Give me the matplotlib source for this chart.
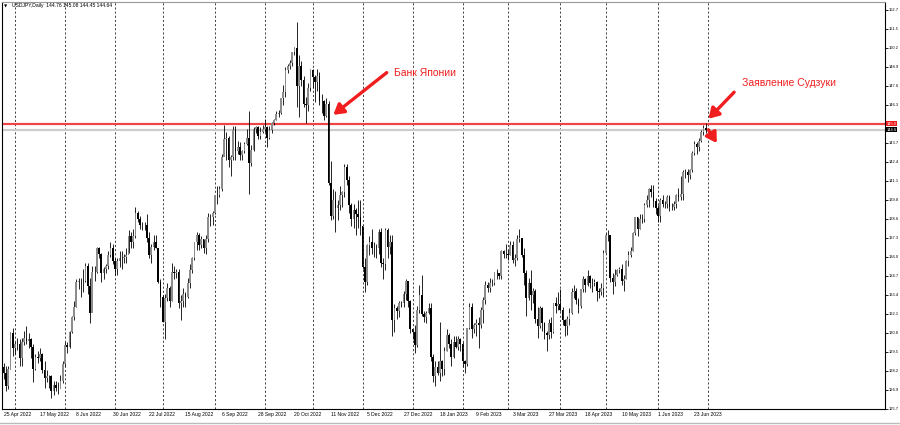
import numpy as np
import pandas as pd
import matplotlib
matplotlib.use('Agg')
import matplotlib.pyplot as plt

plt.rcParams['font.family'] = ['Liberation Sans', 'DejaVu Sans']

# USDJPY daily bars, 25 Apr 2022 .. 30 Jun 2023 (one value per trading day)
first_open = 128.5
closes = [
    # Apr 2022
    128.1, 127.2, 128.4, 130.8, 129.8,
    # May 2022
    130.1, 130.1, 129.1, 130.2, 130.5, 130.3, 130.4, 129.9, 128.4, 129.2, 129.1,
    129.4, 128.3, 127.8, 127.9, 127.9, 126.9, 127.3, 127.1, 127.1, 127.6, 128.7,
    # Jun 2022
    130.0, 129.9, 130.9, 131.9, 132.6, 134.3, 134.4, 134.4, 134.4, 135.4, 134.0,
    132.2, 135.0, 135.0, 136.6, 136.2, 134.9, 135.2, 135.4, 136.1, 136.6, 135.7,
    # Jul 2022
    135.2, 135.7, 135.9, 135.9, 136.0, 136.1, 137.4, 137.0, 137.4, 139.0, 138.6,
    138.2, 138.2, 138.2, 137.3, 136.1, 136.7, 137.0, 136.6, 134.3, 133.3,
    # Aug 2022
    131.6, 133.2, 133.9, 133.0, 135.0, 134.9, 135.0, 132.9, 133.0, 133.5, 133.3,
    134.2, 135.1, 135.9, 137.0, 137.5, 136.8, 137.2, 136.6, 137.2, 138.7, 138.7, 139.0,
    # Sep 2022
    140.2, 140.2, 140.6, 142.8, 144.0, 144.1, 142.6, 142.8, 144.6, 143.2, 143.5,
    142.9, 143.2, 143.7, 144.1, 142.4, 143.3, 144.7, 144.8, 144.2, 144.5, 144.7,
    # Oct 2022
    144.8, 144.1, 144.6, 145.1, 145.3, 145.7, 145.8, 146.8, 147.2, 148.7, 149.0,
    149.2, 149.9, 150.2, 147.6, 149.0, 148.0, 146.4, 146.3, 147.5, 148.7,
    # Nov 2022
    148.2, 147.9, 148.3, 146.6, 146.6, 145.6, 146.4, 141.0, 138.8, 139.9, 139.3,
    139.5, 140.2, 140.4, 142.1, 141.2, 139.5, 138.6, 139.2, 138.9, 138.7, 138.1,
    # Dec 2022
    135.3, 134.3, 136.8, 137.0, 136.6, 136.6, 136.6, 137.7, 135.6, 135.5, 137.8,
    136.7, 137.0, 131.7, 132.5, 132.3, 132.9, 132.9, 133.5, 134.4, 133.0, 131.1,
    # Jan 2023
    130.9, 130.0, 132.4, 133.4, 132.1, 131.9, 132.2, 132.5, 129.2, 127.9, 128.5,
    128.1, 128.9, 128.4, 129.6, 130.7, 130.1, 129.2, 130.2, 129.9, 130.4, 130.1,
    # Feb 2023
    128.9, 128.7, 131.2, 132.6, 131.1, 131.4, 131.5, 131.4, 132.4, 133.1, 134.1,
    133.9, 134.2, 134.2, 134.9, 134.9, 134.7, 136.4, 136.2, 136.2,
    # Mar 2023
    136.1, 136.8, 135.8, 135.9, 137.2, 137.3, 136.1, 134.9, 133.2, 134.2, 133.4,
    133.7, 131.8, 131.3, 132.5, 131.5, 130.8, 130.7, 131.5, 130.9, 132.9, 132.7, 132.8,
    # Apr 2023
    132.4, 131.7, 131.3, 131.8, 132.2, 133.6, 133.7, 133.1, 132.7, 133.8, 134.5,
    134.1, 134.7, 134.2, 134.2, 134.3, 133.7, 133.6, 133.9, 136.3,
    # May 2023
    137.5, 137.5, 134.6, 134.3, 134.8, 135.1, 135.2, 134.4, 134.5, 135.7, 136.1,
    136.4, 137.6, 138.7, 137.9, 138.6, 138.6, 139.5, 139.9, 140.6, 140.4, 139.8, 139.3,
    # Jun 2023
    138.8, 139.9, 139.6, 139.6, 140.1, 139.4, 139.4, 139.6, 140.2, 140.1, 140.3,
    141.8, 141.8, 141.6, 141.9, 143.1, 143.7, 143.5, 143.9, 144.5, 144.76, 144.64,
]
highs = [
    128.8, 128.6, 128.6, 130.9, 131.2,
    130.2, 130.5, 130.4, 130.5, 131.0, 131.3, 130.8, 130.5, 130.1, 129.4, 129.6,
    129.8, 129.5, 128.9, 128.3, 128.0, 128.0, 127.6, 127.6, 127.5, 128.0, 128.9,
    130.2, 130.2, 131.0, 132.0, 133.0, 134.5, 134.6, 134.6, 135.2, 135.6, 135.6,
    134.6, 135.4, 135.4, 136.7, 136.7, 136.3, 135.3, 135.5, 136.4, 137.0, 136.9,
    135.9, 135.9, 136.4, 136.4, 136.2, 136.6, 137.8, 137.7, 137.9, 139.4, 139.1,
    138.8, 138.4, 138.4, 138.9, 137.7, 136.9, 137.5, 137.5, 136.6, 134.5,
    133.4, 133.5, 134.2, 134.0, 135.6, 135.4, 135.2, 135.2, 133.4, 133.9, 133.6,
    134.6, 135.5, 136.0, 137.0, 137.7, 137.6, 137.4, 137.2, 137.5, 139.0, 138.9, 139.1,
    140.2, 140.8, 140.8, 143.0, 145.0, 144.5, 144.2, 142.9, 144.9, 144.9, 143.9,
    143.8, 143.3, 143.8, 144.7, 145.9, 143.6, 144.8, 144.9, 144.9, 144.8, 145.0,
    145.4, 144.9, 144.9, 145.2, 145.4, 145.9, 146.0, 146.8, 147.7, 148.9, 149.1,
    149.4, 149.9, 150.3, 152.0, 149.7, 149.3, 148.3, 146.9, 147.8, 148.8,
    148.8, 148.4, 148.8, 148.6, 147.1, 146.7, 146.8, 146.6, 142.5, 140.6, 140.5,
    139.9, 140.8, 140.5, 142.3, 142.3, 141.5, 139.7, 139.6, 139.3, 139.9, 139.9,
    138.1, 135.9, 136.9, 137.4, 137.9, 137.0, 136.9, 137.9, 138.0, 135.9, 138.0,
    138.0, 137.5, 137.5, 132.8, 132.7, 133.0, 133.0, 133.7, 134.5, 134.4, 133.1,
    131.1, 131.4, 132.7, 134.1, 134.8, 132.3, 132.3, 132.9, 132.9, 129.4, 128.9,
    128.9, 131.6, 129.0, 129.9, 131.1, 130.8, 130.4, 130.6, 130.6, 130.6, 130.5,
    130.2, 129.0, 131.2, 132.9, 132.9, 131.5, 131.8, 131.9, 132.6, 133.3, 134.4,
    134.3, 134.6, 134.5, 135.0, 135.2, 134.9, 136.5, 136.5, 136.9,
    136.5, 137.1, 137.1, 136.2, 137.5, 137.9, 137.2, 136.6, 135.1, 134.6, 135.1,
    133.9, 133.8, 132.6, 132.7, 132.6, 131.6, 131.0, 131.8, 131.9, 132.9, 133.3, 133.6,
    133.8, 132.6, 131.8, 132.0, 132.5, 133.9, 134.1, 133.9, 133.2, 133.8, 134.7,
    134.6, 135.1, 134.8, 134.6, 134.5, 134.4, 133.9, 134.2, 136.5,
    137.6, 137.8, 137.5, 134.9, 135.2, 135.2, 135.3, 135.5, 134.8, 135.8, 136.4,
    136.7, 137.7, 138.7, 138.7, 138.9, 138.9, 139.7, 140.2, 140.7, 140.9, 140.9, 140.0,
    139.5, 140.0, 140.2, 139.8, 140.2, 140.2, 139.7, 139.8, 140.3, 140.7, 141.5,
    141.9, 142.0, 142.0, 142.0, 143.2, 143.9, 143.8, 144.1, 144.6, 145.0, 145.08,
]
lows = [
    127.7, 126.9, 127.0, 128.4, 129.3,
    129.4, 129.7, 128.6, 128.6, 130.0, 130.1, 129.8, 129.1, 127.5, 128.3, 128.8,
    128.9, 128.1, 127.1, 127.5, 127.1, 126.4, 126.6, 126.9, 126.7, 127.1, 127.4,
    128.6, 129.5, 129.8, 130.8, 131.7, 132.6, 133.8, 133.3, 133.6, 134.3, 133.5,
    131.5, 132.3, 134.4, 134.9, 135.9, 134.3, 134.5, 134.9, 135.2, 136.0, 135.5,
    134.8, 134.8, 135.3, 135.2, 135.6, 135.6, 136.3, 136.6, 136.6, 137.3, 138.4,
    137.9, 137.8, 137.8, 137.0, 135.9, 135.6, 136.5, 136.6, 134.2, 132.6,
    131.6, 130.4, 133.0, 132.6, 133.0, 134.5, 134.6, 132.5, 131.7, 132.6, 132.6,
    133.2, 133.9, 134.9, 135.8, 136.5, 136.5, 136.6, 136.3, 136.2, 137.0, 138.1, 138.2,
    138.9, 139.6, 140.1, 140.5, 142.9, 142.6, 142.1, 141.5, 142.6, 142.6, 143.0,
    142.6, 142.6, 143.1, 143.6, 140.3, 142.2, 143.2, 144.4, 144.0, 144.0, 144.4,
    144.5, 143.5, 144.0, 144.4, 145.0, 145.3, 145.5, 145.7, 146.3, 146.9, 148.5,
    148.8, 149.0, 149.7, 146.2, 145.5, 147.6, 146.2, 145.1, 145.9, 147.3,
    147.5, 146.5, 147.3, 146.3, 145.8, 145.3, 145.5, 140.9, 138.5, 138.6, 137.7,
    138.5, 139.2, 139.4, 140.1, 140.9, 139.0, 138.1, 138.0, 137.5, 138.0, 137.5,
    135.2, 133.6, 134.1, 136.1, 136.2, 136.0, 135.9, 136.2, 135.3, 134.5, 135.1,
    135.9, 136.2, 130.6, 130.9, 131.8, 131.9, 132.6, 132.6, 133.1, 132.6, 130.8,
    130.4, 129.5, 129.9, 132.2, 132.0, 131.6, 131.5, 132.1, 128.9, 127.5, 127.2,
    128.0, 127.6, 127.9, 128.0, 129.6, 129.8, 128.6, 129.1, 129.8, 129.7, 129.6,
    128.5, 128.1, 128.6, 131.1, 130.5, 130.8, 130.6, 129.8, 131.2, 131.5, 132.8,
    133.6, 133.6, 134.0, 134.1, 134.5, 134.5, 134.5, 135.9, 135.9,
    135.8, 136.1, 135.6, 135.4, 135.8, 137.0, 136.0, 134.1, 132.0, 133.1, 132.4,
    132.9, 131.5, 130.5, 131.2, 131.0, 130.4, 129.6, 130.4, 130.5, 130.8, 132.2, 132.4,
    132.3, 131.4, 130.6, 130.7, 131.4, 132.1, 133.2, 132.8, 132.2, 132.5, 133.6,
    133.6, 134.0, 133.9, 133.6, 134.0, 133.0, 133.2, 133.4, 133.3,
    136.3, 137.1, 134.3, 133.5, 134.0, 134.7, 134.9, 134.1, 133.7, 134.5, 135.4,
    136.0, 136.4, 137.5, 137.4, 137.9, 138.3, 138.4, 139.4, 139.4, 140.1, 139.4, 138.9,
    138.4, 138.4, 139.4, 139.3, 139.3, 139.1, 139.2, 139.2, 139.3, 139.8, 139.9,
    139.9, 141.4, 141.1, 141.3, 141.8, 142.9, 143.0, 143.2, 143.8, 144.3, 144.45,
]

date_labels = ['25 Apr 2022', '17 May 2022', '8 Jun 2022', '30 Jun 2022', '22 Jul 2022',
               '15 Aug 2022', '6 Sep 2022', '28 Sep 2022', '20 Oct 2022', '11 Nov 2022',
               '5 Dec 2022', '27 Dec 2022', '18 Jan 2023', '9 Feb 2023', '3 Mar 2023',
               '27 Mar 2023', '18 Apr 2023', '10 May 2023', '1 Jun 2023', '23 Jun 2023']
price_ticks = [125.70, 126.99, 128.28, 129.57, 130.86, 132.15, 133.44, 134.73, 136.02,
               137.31, 138.60, 139.89, 141.18, 142.47, 143.76, 145.05, 146.34, 147.63,
               148.92, 150.21, 151.50, 152.79]
level_price = 145.07
bid_price = 144.64
header = 'USDJPY,Daily  144.76 145.08 144.45 144.64'

dates = pd.bdate_range('2022-04-25', '2023-06-30')
o = np.array([first_open] + closes[:-1])
c = np.array(closes)
h = np.array(highs)
l = np.array(lows)
x = np.arange(len(c))

RED = '#f01e1e'
FS = 2.9

fig = plt.figure(figsize=(9, 4.25), dpi=100)
ax = fig.add_axes([2 / 900, 16 / 425, 883 / 900, 407 / 425])

# month separators (dotted), incl. the start of July 2023
ext = pd.bdate_range('2022-04-25', '2023-07-03')
for i in range(1, len(ext)):
    if ext[i].month != ext[i - 1].month:
        ax.axvline(i, color='#222222', lw=0.6, ls=(0, (2.5, 2.5)), zorder=1)

# levels
ax.axhline(bid_price, color='#cccccc', lw=1.6, zorder=1.5)
ax.axhline(level_price, color='#f04444', lw=1.6, zorder=1.6)

# candles
up = c >= o
ax.vlines(x, l, h, color='black', lw=0.6, zorder=2)
ax.bar(x[up], (c - o)[up], bottom=o[up], width=0.75, color='#8c8c8c', lw=0, zorder=3)
ax.bar(x[~up], (o - c)[~up], bottom=c[~up], width=0.75, color='black', lw=0, zorder=3)

ax.set_xlim(-0.72, 387.9)
ax.set_ylim(125.70 - 0.0679 * 0.5, 153.33)

# axes; the price scale is cut at the window edge like the terminal does
ax.yaxis.tick_right()
ax.set_yticks(price_ticks)
ax.set_yticklabels(['' if abs(p - level_price) < 0.3 else f'{p:.3f}'[:5] for p in price_ticks])
ax.tick_params(axis='y', length=2, width=0.6, pad=0.6, labelsize=FS, colors='black')
tick_pos = [dates.get_loc(pd.to_datetime(s, format='%d %b %Y')) for s in date_labels]
ax.set_xticks(tick_pos)
ax.set_xticklabels(date_labels, ha='left')
ax.tick_params(axis='x', length=0, pad=2.5, labelsize=3.6)
for s in ['left', 'bottom', 'right']:
    ax.spines[s].set_color('black')
    ax.spines[s].set_linewidth(0.8)
ax.spines['top'].set_color('#999999')

# price tags on the right scale
for price, bg in [(level_price, '#f01818'), (bid_price, 'black')]:
    ax.text(1.002, price, f'{price:.3f}'[:5], transform=ax.get_yaxis_transform(),
            fontsize=FS, color='white', va='center', ha='left',
            bbox=dict(boxstyle='square,pad=0.1', fc=bg, ec='none'), clip_on=False)

# annotations
arrow = dict(arrowstyle='-|>,head_length=0.5,head_width=0.3', color=RED, lw=2.4,
             mutation_scale=12, shrinkA=0, shrinkB=0)
ax.annotate('', xy=(145.1, 145.66), xytext=(168.6, 148.53), arrowprops=arrow)
ax.text(171.8, 148.53, 'Банк Японии', color=RED, fontsize=7.5, va='center', ha='left')
ax.annotate('', xy=(310.2, 145.39), xytext=(321.5, 147.2), arrowprops=arrow)
ax.text(324.8, 147.85, 'Заявление Судзуки', color=RED, fontsize=7.5, va='center', ha='left')
ax.annotate('', xy=(313.9, 143.74), xytext=(310.2, 144.64), arrowprops=arrow)

# header
fig.text(4 / 900, 1 - 6 / 425, '▼', fontsize=3, va='center', ha='left',
         family=['DejaVu Sans'])
fig.text(12 / 900, 1 - 6 / 425, header, fontsize=3.6, va='center', ha='left')

# bottom tab strip
fig.add_artist(plt.Line2D([0, 1], [2 / 425, 2 / 425], color='#bbbbbb', lw=1.0))

fig.savefig('out.png', dpi=100, facecolor='white')
